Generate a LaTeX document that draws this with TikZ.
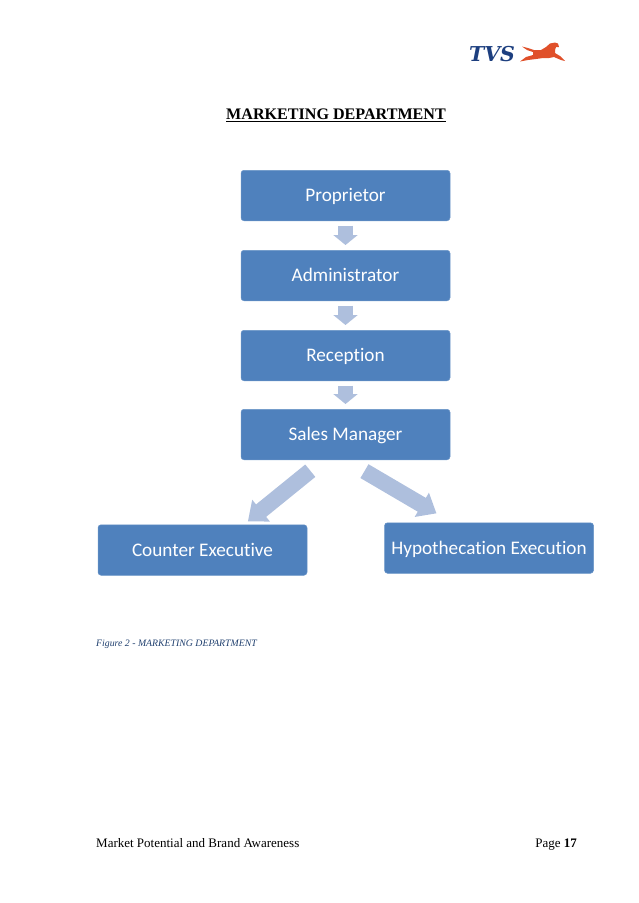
\documentclass[tikz,border=0pt]{standalone}
\usepackage{fontspec}
\setmainfont{Liberation Serif}
\newfontfamily\boxfont[Ligatures=NoCommon]{Carlito}
\newfontfamily\logofont{DejaVu Serif}
\usetikzlibrary{arrows.meta}
\definecolor{boxblue}{HTML}{4F81BD}
\definecolor{flowblue}{HTML}{AEBFDD}
\definecolor{capblue}{HTML}{1F3F6E}
\definecolor{logoblue}{HTML}{1D3F7F}
\definecolor{logored}{HTML}{E0502A}

\begin{document}
\begin{tikzpicture}[
  x=1pt, y=-1pt,
  post/.style={rectangle, rounded corners=3pt, fill=boxblue, draw=boxblue!85!white, line width=0.5pt, minimum width=209pt, minimum height=50.5pt, inner sep=0pt, text=white, text height=16.5pt, text depth=4pt, font=\boxfont\fontsize{19.2}{22}\selectfont},
  flow/.style={draw=flowblue, line width=15pt, -{Triangle[width=24pt,length=10pt,fill=flowblue]}},
  slant/.style={draw=flowblue, line width=16pt, -{Triangle[width=27pt,length=17pt,fill=flowblue]}}
]
  \useasboundingbox (0,0) rectangle (638,903);
  % logo
  \node[inner sep=0pt, text=logoblue, font=\logofont\bfseries\itshape\fontsize{20.5}{22}\selectfont] (tvs) at (492,54) {TVS};
  \fill[logored] (522,46.5) -- (528,48) -- (534,50) -- (541,50) -- (546,47) -- (550,43.5) -- (555,42.5) -- (558,43.5) -- (559,47) -- (556,47) -- (555,50) -- (555,53) -- (560,56) -- (565,61) -- (561,60) -- (554,57) -- (549,58) -- (543,58) -- (536,59) -- (528,60) -- (520,61.5) -- (526,57) -- (533,55) -- (533,52) -- (527,50) -- cycle;
  % title
  \node[inner sep=0pt, font=\bfseries\fontsize{16.1}{18}\selectfont] (title) at (336,115) {\underline{MARKETING DEPARTMENT}};
  % chart
  \node[post] (proprietor) at (345.5,195.5) {Proprietor};
  \node[post] (administrator) at (345.5,275.5) {Administrator};
  \node[post] (reception) at (345.5,355.5) {Reception};
  \node[post] (sales) at (345.5,434.5) {Sales Manager};
  \node[post] (counter) at (202.5,550) {Counter Executive};
  \node[post] (hypothecation) at (489,548) {Hypothecation Execution};
  \draw[flow, shorten <=4.5pt, shorten >=5pt] (proprietor) -- (administrator);
  \draw[flow, shorten <=4.5pt, shorten >=5pt] (administrator) -- (reception);
  \draw[flow, shorten <=4.5pt, shorten >=5pt] (reception) -- (sales);
  \draw[slant, shorten <=17pt, shorten >=5pt] ([xshift=-22pt]sales.south) -- ([xshift=41.5pt]counter.north);
  \draw[slant, shorten <=22pt, shorten >=18pt] (sales.south) -- ([xshift=-37pt]hypothecation.north);
  % caption and footer
  \node[anchor=west, inner sep=0pt, text=capblue, font=\itshape\fontsize{9.8}{11}\selectfont] (caption) at (96,644.5) {Figure 2 - MARKETING DEPARTMENT};
  \node[anchor=base west, inner sep=0pt, font=\fontsize{13}{15}\selectfont] (footer) at (96,847) {Market Potential and Brand Awareness};
  \node[anchor=base east, inner sep=0pt, font=\fontsize{13}{15}\selectfont] (page) at (577,847) {Page \textbf{17}};
\end{tikzpicture}
\end{document}
